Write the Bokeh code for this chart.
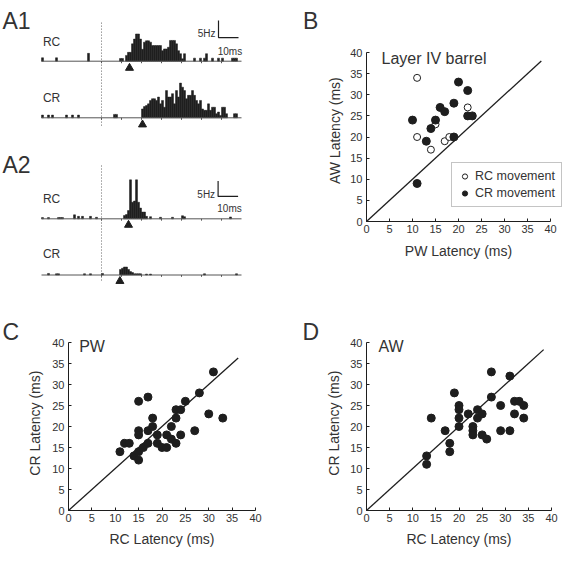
import numpy as np
from bokeh.plotting import figure
from bokeh.models import Range1d, Label, FixedTicker, Legend, LegendItem
from bokeh.layouts import column, row
from bokeh.embed import file_html
from bokeh.resources import INLINE

FONT = "Liberation Sans"
INK = "#1e1e1e"
TXT = "#333333"

# ---------------- data ----------------
# PSTH time axis (ms re: stimulus onset), 1-ms bins
psth_start, psth_end, bin_ms = -30, 70, 1.0
psth_ticks = [0, 10, 20, 30, 40, 50, 60]

# A1 (bin start, rate in Hz)
a1_rc_t = [-30, -23, -7, 9, 10,
           12, 13, 14, 15, 16, 17, 18, 19, 20, 21, 22, 23, 24, 25, 26, 27, 28, 29,
           30, 31, 32, 33, 34, 35, 36, 37, 38, 39, 40, 41,
           46, 49, 51, 52, 55, 58, 60, 65, 66, 67]
a1_rc_hz = [1.0, 1.0, 2.3, 0.8, 0.8,
            1.7, 2.6, 2.6, 5.1, 6.5, 8.0, 8.0, 6.5, 3.5, 5.6, 6.0, 6.0, 5.6, 4.6, 4.6, 4.6, 4.6, 4.6,
            3.1, 3.6, 3.6, 4.1, 6.1, 6.1, 6.1, 5.1, 3.1, 2.2, 0.7, 2.2,
            0.9, 0.9, 0.9, 2.2, 0.9, 0.9, 0.9, 0.9, 0.9, 0.9]
a1_cr_t = [-30, -27, -25, -18, -15, -12, 6, 7,
           20, 21, 22, 23, 24, 25, 26, 27, 28, 29, 30, 31, 32, 33, 34, 35, 36, 37, 38, 39,
           40, 41, 42, 43, 44, 45, 46, 47, 48, 49, 50, 51, 52, 53, 54, 55, 56, 57, 58, 59,
           60, 61, 62, 66, 67]
a1_cr_hz = [0.8, 0.8, 0.8, 0.8, 0.8, 0.8, 1.0, 1.0,
            2.6, 3.3, 3.6, 4.1, 5.1, 5.6, 5.6, 5.1, 6.1, 4.1, 5.1, 3.1, 8.0, 6.1, 6.1, 7.1, 4.1, 8.0, 6.1, 10.2,
            9.0, 8.0, 5.6, 6.6, 6.6, 8.0, 6.6, 5.1, 4.1, 5.1, 2.6, 2.2, 2.2, 4.1, 2.2, 3.1, 3.1, 1.2, 1.7, 0.7,
            3.1, 3.1, 1.2, 1.2, 1.2]
a1_rc_latency = 14.0
a1_cr_latency = 20.5

# A2
a2_rc_t = [-30, -27, -22, -21, -20, -14, -12, -10, -6, -3,
           11, 12, 13, 14, 15, 16, 17, 18, 19, 20, 21, 22,
           24, 29, 35, 40, 41, 64]
a2_rc_hz = [0.4, 0.4, 0.4, 0.4, 0.4, 1.3, 0.8, 0.8, 0.8, 0.5,
            1.1, 1.4, 2.7, 12.7, 5.4, 5.8, 12.7, 5.4, 3.5, 2.2, 2.2, 0.8,
            0.7, 0.5, 0.5, 1.0, 0.7, 0.6]
a2_cr_t = [-27, -23, -22, -9, -6, 0,
           9, 10, 11, 12, 13, 14, 15, 16, 17, 18, 19,
           22, 24, 51, 67]
a2_cr_hz = [0.5, 0.4, 0.4, 0.4, 0.4, 0.5,
            1.8, 2.2, 2.6, 2.6, 1.8, 1.1, 0.8, 0.4, 0.4, 0.4, 0.4,
            0.3, 0.3, 0.4, 0.4]
a2_rc_latency = 13.5
a2_cr_latency = 9.2

scale_ms, scale_hz = 10, 5

# B: Layer IV barrel latencies (ms)
b_rc_pw = [11, 11, 14, 15, 17, 18, 22]
b_rc_aw = [34, 20, 17, 23, 19, 20, 27]
b_cr_pw = [10, 11, 13, 14, 15, 16, 17, 19, 19, 20, 22, 22, 23]
b_cr_aw = [24, 9, 19, 22, 24, 27, 26, 28, 20, 33, 31, 25, 25]

# C: PW, RC vs CR latency (ms)
c_rc = [11, 12, 13, 14, 15, 15, 15, 15, 15, 16, 17, 17, 17, 18, 18, 19, 19, 20, 21, 21,
        22, 22, 23, 23, 23, 24, 24, 25, 27, 28, 30, 31, 33]
c_cr = [14, 16, 16, 13, 14, 12, 26, 19, 18, 15, 27, 19, 16, 22, 20, 18, 16, 15, 15, 18,
        20, 17, 16, 22, 24, 24, 18, 26, 19, 28, 23, 33, 22]

# D: AW, RC vs CR latency (ms)
d_rc = [13, 13, 14, 17, 18, 18, 19, 20, 20, 20, 20, 22, 23, 23, 23, 24, 24, 25, 25, 26,
        27, 27, 29, 29, 31, 31, 32, 32, 33, 34, 34]
d_cr = [13, 11, 22, 19, 16, 14, 28, 25, 24, 22, 20, 23, 20, 19, 18, 24, 22, 23, 18, 17,
        33, 27, 25, 19, 32, 19, 26, 23, 26, 25, 22]

lat_lo, lat_hi = 0, 40
lat_ticks = [0, 5, 10, 15, 20, 25, 30, 35, 40]
diag_end_b, diag_end_c, diag_end_d = 38.0, 36.3, 38.3


# ---------------- helpers ----------------
def txt(p, text, x, y, size, xu="screen", yu="screen", align="left",
        baseline="alphabetic", angle=0.0):
    p.add_layout(Label(x=x, y=y, x_units=xu, y_units=yu, text=text, angle=angle,
                       text_font=FONT, text_font_size=size, text_color=TXT,
                       text_align=align, text_baseline=baseline))


def bare_fig(w, h, xr, yr):
    p = figure(width=w, height=h, x_range=Range1d(*xr), y_range=Range1d(*yr),
               min_border=0, output_backend="svg", toolbar_location=None,
               x_axis_location=None, y_axis_location=None)
    p.grid.visible = False
    p.outline_line_color = None
    return p


# ---- PSTH panels: frame fills the figure; 2 px per ms, time -30 at x = 41 px
PSTH_W, PSTH_LEFT, PX_PER_MS = 300, 41, 2.0
psth_xr = (psth_start - PSTH_LEFT / PX_PER_MS,
           psth_start + (PSTH_W - PSTH_LEFT) / PX_PER_MS)


def psth_fig(h, cr_base_px, px_per_hz):
    yr = (-(h - cr_base_px) / px_per_hz, cr_base_px / px_per_hz)
    return bare_fig(PSTH_W, h, psth_xr, yr)


def add_psth(p, t, hz, base, lat, name, name_y):
    t = np.asarray(t, float)
    hz = np.asarray(hz, float)
    p.vbar(x=t + bin_ms / 2, width=bin_ms, bottom=base, top=base + hz,
           fill_color=INK, line_color=INK, line_width=0.5)
    p.segment(x0=[psth_start], x1=[psth_end], y0=[base], y1=[base],
              line_color="#555555", line_width=1)
    p.segment(x0=psth_ticks, x1=psth_ticks, y0=base - 0.6, y1=base,
              line_color="#555555", line_width=1)
    p.scatter(x=[lat], y=[base - 2.0], marker="triangle", size=8,
              fill_color=INK, line_color=INK)
    txt(p, name, psth_start + 0.7, name_y, "12px", xu="data", yu="data")


def add_scalebar(p, x0, y0, hz_text_y, ms_text_y):
    p.line(x=[x0, x0, x0 + scale_ms], y=[y0 + scale_hz, y0, y0],
           line_color=INK, line_width=1.2)
    txt(p, f"{scale_hz}Hz", x0 - 1.5, hz_text_y, "10px", xu="data", yu="data", align="right")
    txt(p, f"{scale_ms}ms", x0 + scale_ms / 2 + 0.7, ms_text_y, "10px", xu="data", yu="data",
        align="center")


# ---- latency panels: frame fills the figure; axes pinned at 0 and bounded to 0..40
def lat_fig(w, h, fl, fr, ft, fb):
    ppx = (fr - fl) / (lat_hi - lat_lo)
    ppy = (fb - ft) / (lat_hi - lat_lo)
    xr = (lat_lo - fl / ppx, lat_lo + (w - fl) / ppx)
    yr = (lat_lo - (h - fb) / ppy, lat_lo + fb / ppy)
    p = figure(width=w, height=h, x_range=Range1d(*xr), y_range=Range1d(*yr),
               min_border=0, output_backend="svg", toolbar_location=None)
    p.grid.visible = False
    p.outline_line_color = None
    for ax in p.axis:
        ax.fixed_location = lat_lo
        ax.bounds = (lat_lo, lat_hi)
        ax.ticker = FixedTicker(ticks=lat_ticks)
        ax.minor_tick_line_color = None
        ax.major_tick_in = 3
        ax.major_tick_out = 0
        ax.axis_line_color = INK
        ax.major_tick_line_color = INK
        ax.major_label_text_font = FONT
        ax.major_label_text_font_size = "11px"
        ax.major_label_text_color = TXT
    p.xaxis.major_label_standoff = 3
    p.yaxis.major_label_standoff = 4
    return p


# ---------------- A1 ----------------
a1 = psth_fig(145, 117.3, 3.4)
a1_rc_base = 16.65
a1.segment(x0=[0], x1=[0], y0=[-2.3], y1=[28.2], line_color="#666666",
           line_width=1, line_dash="1 2")
add_psth(a1, a1_rc_t, a1_rc_hz, a1_rc_base, a1_rc_latency, "RC", 22.3)
add_psth(a1, a1_cr_t, a1_cr_hz, 0.0, a1_cr_latency, "CR", 5.8)
add_scalebar(a1, 58.5, 23.6, 24.8, 19.6)
txt(a1, "A1", 2, 125, "23px")

# ---------------- A2 ----------------
a2 = psth_fig(145, 129.5, 3.07)
a2_rc_base = 18.3
a2.segment(x0=[0], x1=[0], y0=[-1.8], y1=[35.7], line_color="#666666",
           line_width=1, line_dash="1 2")
add_psth(a2, a2_rc_t, a2_rc_hz, a2_rc_base, a2_rc_latency, "RC", 24.8)
add_psth(a2, a2_cr_t, a2_cr_hz, 0.0, a2_cr_latency, "CR", 6.7)
add_scalebar(a2, 58.3, 25.6, 26.2, 21.7)
txt(a2, "A2", 2, 126, "23px")

# ---------------- B ----------------
pb = lat_fig(263, 290, 66, 250, 52, 221)
pb.line(x=[0, diag_end_b], y=[0, diag_end_b], line_color=INK, line_width=1.3)
r_rc = pb.scatter(b_rc_pw, b_rc_aw, size=7, fill_color="white", line_color=INK, line_width=1)
r_cr = pb.scatter(b_cr_pw, b_cr_aw, size=8, fill_color=INK, line_color=INK)
leg = Legend(items=[LegendItem(label="RC movement", renderers=[r_rc]),
                    LegendItem(label="CR movement", renderers=[r_cr])],
             location=(151, 83), padding=6, spacing=3, margin=0,
             glyph_width=13, glyph_height=14, label_standoff=4,
             label_text_font=FONT, label_text_font_size="12.5px", label_text_color=TXT,
             border_line_color="#8a8a8a", border_line_width=1, background_fill_alpha=1)
pb.add_layout(leg)
txt(pb, "Layer IV barrel", 81, 232, "16px")
txt(pb, "B", 2.5, 270, "23px")
txt(pb, "PW Latency (ms)", 20, 40, "14px", xu="data", align="center", baseline="middle")
txt(pb, "AW Latency (ms)", 34, 21.5, "14px", yu="data", align="center", baseline="middle",
    angle=np.pi / 2)

# ---------------- C ----------------
pc = lat_fig(300, 280, 68, 255, 52, 220)
pc.line(x=[0, diag_end_c], y=[0, diag_end_c], line_color=INK, line_width=1.3)
pc.scatter(c_rc, c_cr, size=8, fill_color=INK, line_color=INK)
txt(pc, "PW", 78.7, 224, "16px")
txt(pc, "C", 2, 239, "23px")
txt(pc, "RC Latency (ms)", 20, 32, "14px", xu="data", align="center", baseline="middle")
txt(pc, "CR Latency (ms)", 34.3, 20.8, "14px", yu="data", align="center", baseline="middle",
    angle=np.pi / 2)

# ---------------- D ----------------
pd_ = lat_fig(263, 280, 66, 251, 52, 220)
pd_.line(x=[0, diag_end_d], y=[0, diag_end_d], line_color=INK, line_width=1.3)
pd_.scatter(d_rc, d_cr, size=8, fill_color=INK, line_color=INK)
txt(pd_, "AW", 78, 224, "16px")
txt(pd_, "D", 2, 239, "23px")
txt(pd_, "RC Latency (ms)", 20, 32, "14px", xu="data", align="center", baseline="middle")
txt(pd_, "CR Latency (ms)", 33, 20.8, "14px", yu="data", align="center", baseline="middle",
    angle=np.pi / 2)

layout = column(row(column(a1, a2), pb), row(pc, pd_))
open("out.html", "w").write(file_html(layout, INLINE))
